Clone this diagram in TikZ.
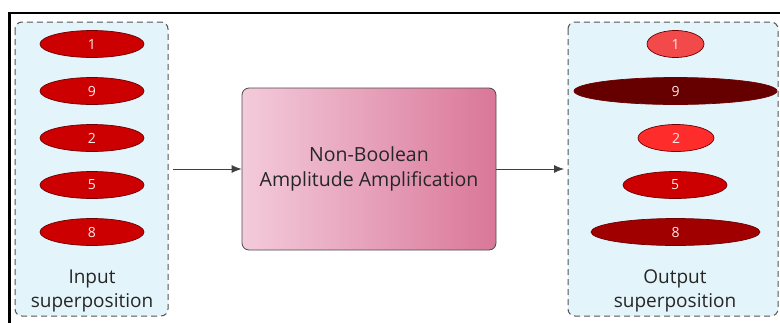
\documentclass[tikz,border=0pt]{standalone}
\usepackage{fontspec}
\setmainfont{Open Sans}
\usetikzlibrary{shapes.geometric,arrows.meta}
\definecolor{contfill}{HTML}{E4F4FB}
\definecolor{contline}{HTML}{555555}
\definecolor{redA}{HTML}{CC0000}
\definecolor{redEdge}{HTML}{6E0000}
\definecolor{out1}{HTML}{F24A4A}
\definecolor{out9}{HTML}{660000}
\definecolor{out2}{HTML}{FF2C2C}
\definecolor{out5}{HTML}{CC0000}
\definecolor{out8}{HTML}{A00000}
\definecolor{boxL}{HTML}{F3CBDA}
\definecolor{boxR}{HTML}{DA7799}
\definecolor{boxline}{HTML}{4A4A4A}
\definecolor{numtxt}{HTML}{FFE8E8}
\tikzset{
  container/.style={draw=contline, dashed, dash pattern=on 6pt off 4pt, fill=contfill, rounded corners=7pt, line width=1pt},
  amp/.style={ellipse, draw=redEdge, line width=0.7pt, inner sep=0pt, minimum height=27pt, text=numtxt, font=\fontsize{14}{16}\selectfont},
  procbox/.style={rectangle, rounded corners=7pt, draw=boxline, line width=0.8pt, left color=boxL, right color=boxR, minimum width=254pt, minimum height=162pt, align=center, font=\fontsize{19.5}{25}\selectfont, text=black!85},
  lbl/.style={align=center, font=\fontsize{19}{24}\selectfont, text=black!85},
  flow/.style={-{Latex[length=10pt,width=8pt]}, line width=0.8pt, draw=black!75}
}
\begin{document}
\begin{tikzpicture}[x=1pt,y=-1pt]
\useasboundingbox (0,0) rectangle (780,322);
\fill[white] (0,0) rectangle (780,322);
% frame
\draw[line width=2.6pt, black] (9.5,330) -- (9.5,13) -- (785,13);
% containers
\draw[container] (15,22) rectangle (168,316);
\draw[container] (568,22) rectangle (778,316);
% input ellipses
\node[amp, fill=redA, minimum width=104pt] (i1) at (92,44) {1};
\node[amp, fill=redA, minimum width=104pt] (i9) at (92,91) {9};
\node[amp, fill=redA, minimum width=104pt] (i2) at (92,138) {2};
\node[amp, fill=redA, minimum width=104pt] (i5) at (92,185) {5};
\node[amp, fill=redA, minimum width=104pt] (i8) at (92,232) {8};
\node[lbl] (inlbl) at (92,291) {Input\\superposition};
% output ellipses
\node[amp, fill=out1, minimum width=57pt] (o1) at (675.5,44) {1};
\node[amp, fill=out9, minimum width=203pt] (o9) at (675.5,91) {9};
\node[amp, fill=out2, minimum width=76pt] (o2) at (676,138) {2};
\node[amp, fill=out5, minimum width=104pt] (o5) at (675,185) {5};
\node[amp, fill=out8, minimum width=169pt] (o8) at (675.5,232) {8};
\node[lbl] (outlbl) at (675,291) {Output\\superposition};
% process
\node[procbox] (proc) at (369,169) {Non-Boolean\\Amplitude Amplification};
\coordinate (inR) at (173,169);
\coordinate (outL) at (564,169);
\draw[flow] (inR) -- (proc.west);
\draw[flow] (proc.east) -- (outL);
\end{tikzpicture}
\end{document}
